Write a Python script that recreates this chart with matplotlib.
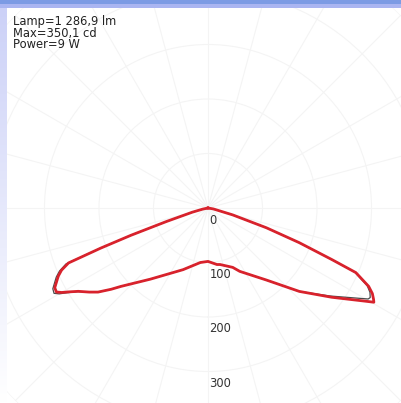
import numpy as np
import matplotlib
matplotlib.use("Agg")
import matplotlib.pyplot as plt
from matplotlib.patches import Rectangle

# luminous intensity (cd) vs gamma angle (deg), 0 = nadir, negative = left half
gamma_deg = [-90, -78, -75, -72, -70.5, -69.5, -68.5, -67, -65.5, -62.5, -61, -60, -59, -57.3,
             -54.7, -52.6, -50, -48, -39, -22, -8, 0, 9, 12, 22.6, 26.6, 39, 47.6, 54.2, 59.4,
             60.4, 61.1, 62.5, 64, 66.4, 67.4, 69.2, 71.3, 74.4, 80, 90]
cd_c0_180 = [0, 10, 30, 80, 150, 210, 275, 292, 302, 317, 318, 310, 299, 283,
             267, 254, 232, 215, 168, 122, 101, 98, 105, 106, 118, 130, 170, 227, 280, 336,
             350, 347, 340, 328, 296, 246, 179, 113, 47, 10, 0]
cd_c90_270 = [0, 10, 30, 80, 150, 212, 280, 296, 306, 321, 323, 315, 302, 284,
              267, 254, 232, 215, 168, 122, 101, 98, 105, 106, 118, 130, 170, 227, 276, 326,
              338, 340, 335, 325, 294, 246, 179, 113, 47, 10, 0]
ring_values = [0, 100, 200, 300]
info_lines = ["Lamp=1 286,9 lm", "Max=350,1 cd", "Power=9 W"]

W, H = 401, 403
CX, CY = 208, 208          # pole position in pixels (from top-left)
PX_PER_CD = 0.545
RMAX = 500

fig = plt.figure(figsize=(W / 100, H / 100), dpi=100)
fig.patch.set_facecolor("white")

size = 2 * RMAX * PX_PER_CD
ax = fig.add_axes([(CX - size / 2) / W, (H - CY - size / 2) / H, size / W, size / H],
                  projection="polar", zorder=1)
ax.set_theta_zero_location("S")
ax.set_theta_direction(1)
ax.set_rlim(0, RMAX)
ax.set_rticks([100, 200, 300, 400, 500])
ax.set_yticklabels([])
ax.set_thetagrids(np.arange(0, 360, 15), labels=[])
ax.grid(True, color="#f4f4f4", linewidth=0.8)
ax.spines["polar"].set_visible(False)
ax.patch.set_alpha(0)

th = np.deg2rad(gamma_deg)
ax.plot(th, cd_c90_270, color="#4a4a4a", linewidth=0.9, zorder=3)
ax.plot(th, cd_c0_180, color="#d8222c", linewidth=2.0, zorder=4)

for v in ring_values:
    ax.annotate(str(v), xy=(0, v), xytext=(1.5, -12), textcoords="offset pixels",
                ha="left", va="center", fontsize=8.3, color="#333333", family="DejaVu Sans",
                annotation_clip=False)

# frame decoration (blue bands on top and left), drawn over the grid
fg = fig.add_axes([0, 0, 1, 1], zorder=5)
fg.set_xlim(0, W)
fg.set_ylim(H, 0)
fg.axis("off")
fg.patch.set_alpha(0)
grad = np.linspace(0, 1, 200)
left_rgba = np.zeros((200, 1, 4))
for i, c in enumerate((0.80, 0.82, 0.97)):
    left_rgba[:, 0, i] = c + (1 - c) * grad
left_rgba[:, 0, 3] = 1.0
fg.imshow(left_rgba, extent=(0, 7, H, 8), aspect="auto", interpolation="bilinear")
fg.add_patch(Rectangle((0, 0), W, 4, color="#7c9be4", lw=0))
fg.add_patch(Rectangle((0, 4), W, 4, color="#aab5f1", lw=0))
fg.set_xlim(0, W)
fg.set_ylim(H, 0)

for i, line in enumerate(info_lines):
    fig.text(13 / W, 1 - (21.5 + 11.7 * i) / H, line, ha="left", va="center",
             fontsize=8.3, color="#222222", family="DejaVu Sans", zorder=6)

fig.savefig("out.png", dpi=100)
